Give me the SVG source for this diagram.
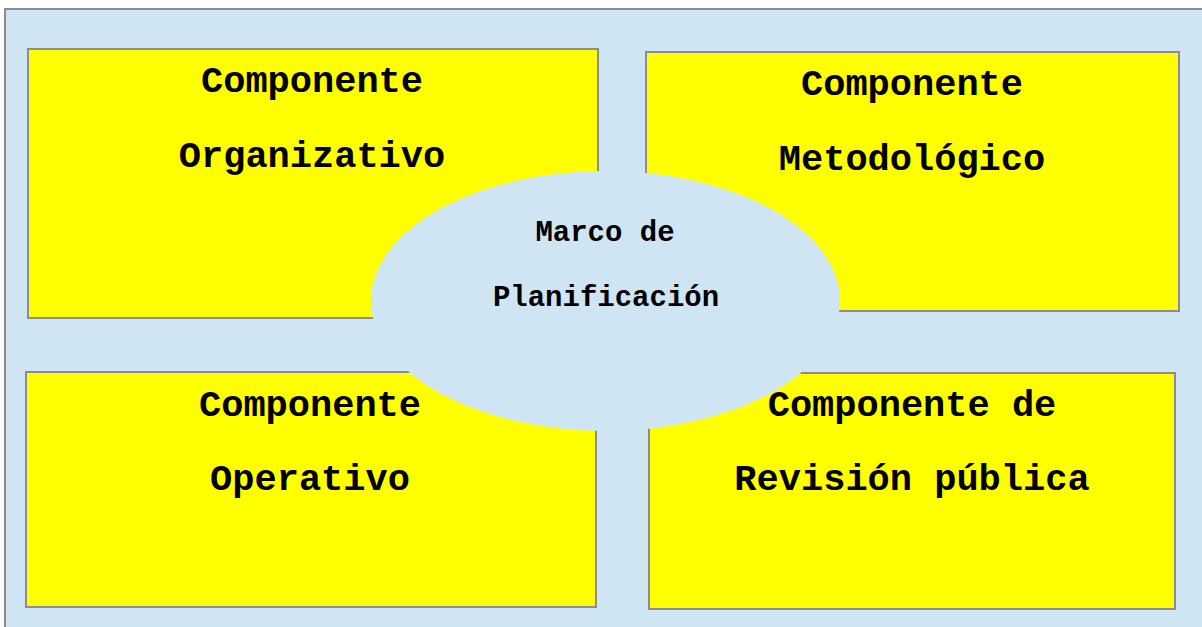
<svg xmlns="http://www.w3.org/2000/svg" width="1202" height="627" viewBox="0 0 1202 627">
<style>
.frame{fill:#CFE5F3;stroke:#8c8c8c;stroke-width:2}
.box{fill:#FFFF00;stroke:#8c8c8c;stroke-width:2}
.hub{fill:#CFE5F3;stroke:none}
.t{font-family:"Liberation Mono","Courier New",monospace;font-weight:bold;fill:#000;text-anchor:middle}
.big{font-size:37px}
.small{font-size:29px}
</style>
<rect width="1202" height="627" fill="#ffffff"/>
<rect class="frame" x="5" y="9" width="1210" height="630"/>
<g id="organizativo">
<rect class="box" x="28" y="49" width="570" height="269"/>
<text class="t big" x="312" y="92">Componente</text>
<text class="t big" x="312" y="167">Organizativo</text>
</g>
<g id="metodologico">
<rect class="box" x="646" y="52" width="533" height="259"/>
<text class="t big" x="912" y="95">Componente</text>
<text class="t big" x="912" y="170">Metodológico</text>
</g>
<g id="operativo">
<rect class="box" x="26" y="372" width="570" height="235"/>
<text class="t big" x="310" y="416">Componente</text>
<text class="t big" x="310" y="490">Operativo</text>
</g>
<g id="revision">
<rect class="box" x="649" y="373" width="526" height="236"/>
<text class="t big" x="912" y="416">Componente de</text>
<text class="t big" x="912" y="490">Revisión pública</text>
</g>
<g id="marco">
<ellipse class="hub" cx="605.5" cy="301" rx="234.5" ry="130"/>
<text class="t small" x="605" y="241">Marco de</text>
<text class="t small" x="606" y="306">Planificación</text>
</g>
<g id="connectors"></g>
</svg>
